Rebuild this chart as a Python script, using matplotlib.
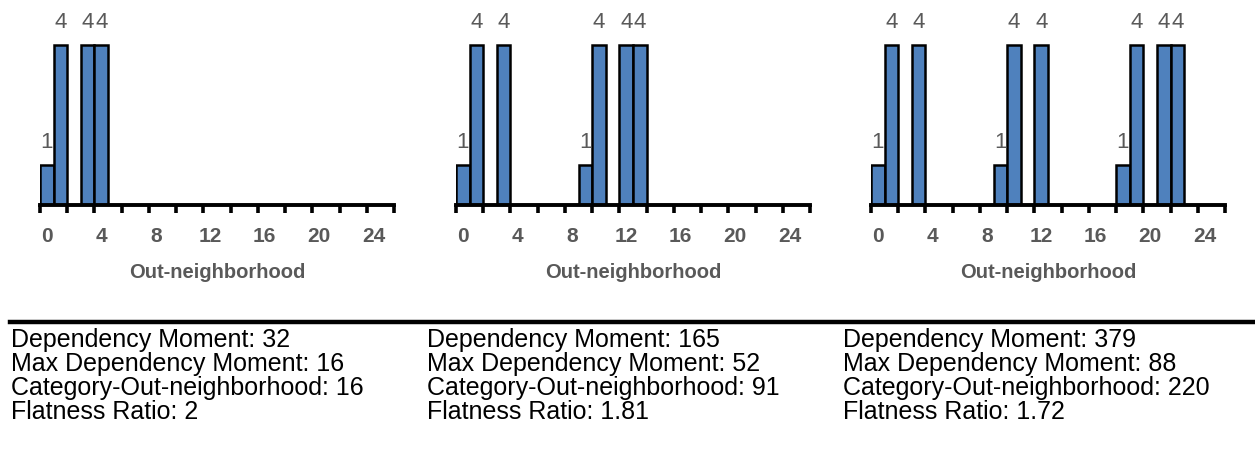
import matplotlib
matplotlib.use("Agg")
import matplotlib.pyplot as plt
from matplotlib.lines import Line2D

# bin positions (out-neighborhood size) and counts for each panel
pos_1 = [0, 1, 3, 4]
val_1 = [1, 4, 4, 4]
pos_2 = [0, 1, 3, 9, 10, 12, 13]
val_2 = [1, 4, 4, 1, 4, 4, 4]
pos_3 = [0, 1, 3, 9, 10, 12, 18, 19, 21, 22]
val_3 = [1, 4, 4, 1, 4, 4, 1, 4, 4, 4]

n_bins = 26
label_pos = [0, 4, 8, 12, 16, 20, 24]
tick_labels = ["0", "4", "8", "12", "16", "20", "24"]
x_title = "Out-neighborhood"

dep_moment = [32, 165, 379]
max_dep_moment = [16, 52, 88]
cat_out = [16, 91, 220]
flatness = ["2", "1.81", "1.72"]

plt.rcParams['font.family'] = ['Liberation Sans', 'DejaVu Sans']

BLUE = "#4F81BD"
GRAY = "#595959"
W, H = 1255, 451

fig = plt.figure(figsize=(W / 100, H / 100), dpi=100)

panels = [(pos_1, val_1, 40), (pos_2, val_2, 456), (pos_3, val_3, 871)]
axis_y = 205
unit_px = 40
span_px = 354

for pos, val, left in panels:
    ax = fig.add_axes([left / W, (H - axis_y) / H, span_px / W, axis_y / H])
    ax.bar(pos, val, width=1.0, color=BLUE, edgecolor="black", linewidth=1.8, zorder=2)
    for p, v in zip(pos, val):
        ax.annotate(str(v), (p, v), xytext=(0, 12), textcoords="offset points",
                    ha="center", va="baseline", fontsize=16, color=GRAY)
    ax.set_xlim(-0.5, n_bins - 0.5)
    ax.set_ylim(0, axis_y / unit_px)
    for s in ["left", "right", "top"]:
        ax.spines[s].set_visible(False)
    ax.spines["bottom"].set_linewidth(2.8)
    ax.spines["bottom"].set_zorder(3)
    ax.set_yticks([])
    # tick marks sit on category boundaries, labels on category centres
    ax.set_xticks([b - 0.5 for b in range(0, n_bins + 1, 2)])
    ax.set_xticklabels([])
    ax.tick_params(axis="x", which="major", direction="out", length=6, width=2.6, color="black")
    ax.set_xticks(label_pos, minor=True)
    ax.set_xticklabels(tick_labels, minor=True)
    ax.tick_params(axis="x", which="minor", length=0, pad=16, labelsize=15, labelcolor=GRAY)
    for t in ax.get_xticklabels(minor=True):
        t.set_fontweight("bold")
    ax.set_xlabel(x_title, fontsize=14.5, fontweight="bold", color=GRAY, labelpad=12)

# divider line above the stats
fig.add_artist(Line2D([10 / W, 1.0], [(H - 322) / H] * 2, color="black", linewidth=3.2,
                      transform=fig.transFigure))

col_x = [11, 427, 843]
row_base = [347, 371, 395, 419]
for i in range(3):
    lines = [
        f"Dependency Moment: {dep_moment[i]}",
        f"Max Dependency Moment: {max_dep_moment[i]}",
        f"Category-Out-neighborhood: {cat_out[i]}",
        f"Flatness Ratio: {flatness[i]}",
    ]
    for txt, yb in zip(lines, row_base):
        fig.text(col_x[i] / W, (H - yb) / H, txt, fontsize=18, color="black",
                 ha="left", va="baseline")

fig.savefig("out.png", dpi=100)
